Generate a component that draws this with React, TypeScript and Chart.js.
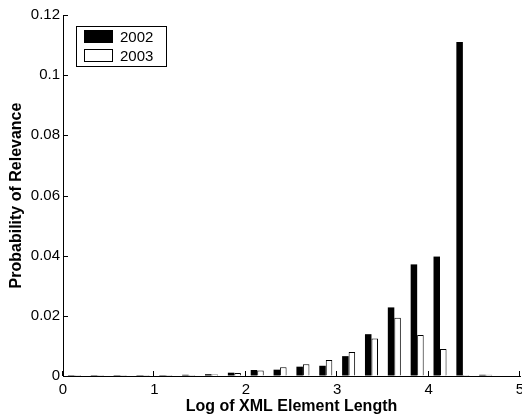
import React, { useEffect, useRef } from 'react';
import { Chart, registerables } from 'chart.js';

Chart.register(...registerables);

// Bin centres on the log10(length) axis (bins of width 0.25)
const binCenters = [
  0.125, 0.375, 0.625, 0.875, 1.125, 1.375, 1.625, 1.875, 2.125, 2.375,
  2.625, 2.875, 3.125, 3.375, 3.625, 3.875, 4.125, 4.375, 4.625, 4.875,
];
const series2002 = [
  0.0003, 0.0003, 0.0003, 0.0003, 0.0003, 0.0004, 0.0006, 0.0011, 0.0020, 0.0021,
  0.0031, 0.0034, 0.0066, 0.0139, 0.0228, 0.0371, 0.0397, 0.1110, 0.0004, 0,
];
const series2003 = [
  0.0003, 0.0003, 0.0003, 0.0003, 0.0003, 0.0003, 0.0005, 0.0010, 0.0018, 0.0029,
  0.0039, 0.0053, 0.0080, 0.0125, 0.0194, 0.0136, 0.0090, 0.0003, 0.0004, 0,
];
const seriesLabels = ['2002', '2003'];
const xTickLabels = ['0', '1', '2', '3', '4', '5'];
const yTickLabels = ['0', '0.02', '0.04', '0.06', '0.08', '0.1', '0.12'];
const xTitle = 'Log of XML Element Length';
const yTitle = 'Probability of Relevance';

const FONT = '"Liberation Sans", Arial, Helvetica, sans-serif';

const innerTicks = {
  id: 'innerTicks',
  afterDraw(chart: any) {
    const { ctx, chartArea, scales } = chart;
    ctx.save();
    ctx.strokeStyle = '#000';
    ctx.lineWidth = 1;
    scales.y.ticks.forEach((t: any) => {
      const y = Math.round(scales.y.getPixelForValue(t.value)) + 0.5;
      ctx.beginPath();
      ctx.moveTo(chartArea.left, y);
      ctx.lineTo(chartArea.left + 5, y);
      ctx.stroke();
    });
    scales.x.ticks.forEach((t: any) => {
      const x = Math.round(scales.x.getPixelForValue(t.value)) - 0.5;
      ctx.beginPath();
      ctx.moveTo(x, chartArea.bottom);
      ctx.lineTo(x, chartArea.bottom - 5);
      ctx.stroke();
    });
    ctx.restore();
  },
};

const boxLegend = {
  id: 'boxLegend',
  afterDraw(chart: any) {
    const { ctx } = chart;
    ctx.save();
    ctx.fillStyle = '#fff';
    ctx.strokeStyle = '#000';
    ctx.lineWidth = 1;
    ctx.fillRect(76, 26, 91, 41);
    ctx.strokeRect(76.5, 26.5, 90, 40);
    ctx.font = `15px ${FONT}`;
    ctx.textBaseline = 'middle';
    ctx.textAlign = 'left';
    chart.data.datasets.forEach((ds: any, i: number) => {
      const sy = 30 + i * 19.3;
      ctx.fillStyle = ds.backgroundColor;
      ctx.fillRect(84, sy, 29, 13);
      ctx.strokeStyle = '#000';
      ctx.strokeRect(84.5, Math.round(sy) + 0.5, 28, 12);
      ctx.fillStyle = '#000';
      ctx.fillText(ds.label, 120, sy + 7.5);
    });
    ctx.restore();
  },
};

export default function App() {
  const ref = useRef<HTMLCanvasElement | null>(null);

  useEffect(() => {
    if (!ref.current) return;
    const chart = new Chart(ref.current, {
      type: 'bar',
      data: {
        datasets: [
          {
            label: seriesLabels[0],
            data: binCenters.map((x, i) => ({ x, y: series2002[i] })),
            backgroundColor: '#000',
            borderColor: '#000',
            borderWidth: 0,
            categoryPercentage: 0.57,
            barPercentage: 1,
          },
          {
            label: seriesLabels[1],
            data: binCenters.map((x, i) => ({ x, y: series2003[i] })),
            backgroundColor: '#fff',
            borderColor: '#000',
            borderWidth: 1,
            categoryPercentage: 0.57,
            barPercentage: 1,
          },
        ],
      },
      options: {
        animation: false,
        responsive: false,
        devicePixelRatio: 1,
        layout: { padding: { left: 0, right: 2, top: 15, bottom: 0 } },
        plugins: { legend: { display: false }, tooltip: { enabled: false } },
        scales: {
          x: {
            type: 'linear',
            min: 0,
            max: 5,
            offset: false,
            grid: { display: true, drawOnChartArea: false, drawTicks: false, offset: false },
            border: { display: true, color: '#000', width: 1 },
            ticks: {
              stepSize: 1,
              padding: 5,
              color: '#000',
              font: { family: FONT, size: 15 },
              maxRotation: 0,
              callback: (v: any) => xTickLabels[Math.round(Number(v))],
            },
            title: {
              display: true,
              text: xTitle,
              color: '#000',
              font: { family: FONT, size: 16, weight: 'bold' },
              padding: { top: 0, bottom: 1 },
            },
            afterFit: (s: any) => {
              s.height = 41;
              s.paddingLeft = 0;
              s.paddingRight = 0;
            },
          },
          y: {
            type: 'linear',
            min: 0,
            max: 0.12,
            grid: { display: true, drawOnChartArea: false, drawTicks: false },
            border: { display: true, color: '#000', width: 1 },
            ticks: {
              stepSize: 0.02,
              padding: 3,
              color: '#000',
              font: { family: FONT, size: 15 },
              callback: (v: any) => yTickLabels[Math.round(Number(v) / 0.02)],
            },
            title: {
              display: true,
              text: yTitle,
              color: '#000',
              font: { family: FONT, size: 16, weight: 'bold' },
              padding: { top: 7, bottom: 0 },
            },
            afterFit: (s: any) => {
              s.width = 63;
              s.paddingTop = 0;
              s.paddingBottom = 0;
            },
          },
        },
      },
      plugins: [innerTicks, boxLegend],
    } as any);
    return () => chart.destroy();
  }, []);

  return (
    <div style={{ position: 'fixed', left: 0, top: 0, width: 522, height: 417, background: '#fff' }}>
      <canvas ref={ref} width={522} height={417} style={{ display: 'block' }} />
    </div>
  );
}
